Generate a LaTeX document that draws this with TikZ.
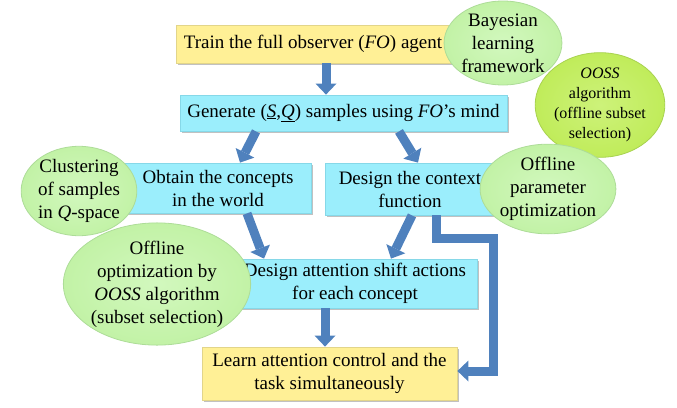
\documentclass[tikz,border=0pt]{standalone}
\usepackage{fontspec}
\setmainfont{Liberation Serif}
\usetikzlibrary{arrows.meta,shadows,shapes.geometric}
\definecolor{ybox}{HTML}{FFF096}
\definecolor{yborder}{HTML}{E2D58A}
\definecolor{cbox}{HTML}{9BEEFC}
\definecolor{cborder}{HTML}{86D8E8}
\definecolor{gell}{HTML}{C2F2A6}
\definecolor{gellin}{HTML}{D2F8BE}
\definecolor{gborder}{HTML}{ADDC98}
\definecolor{oell}{HTML}{C0EC5A}
\definecolor{oellin}{HTML}{CDF27A}
\definecolor{oborder}{HTML}{A8D250}
\definecolor{arr}{HTML}{4F81BD}
\begin{document}
\begin{tikzpicture}[x=1pt,y=-1pt,
  boxbase/.style={rectangle, inner sep=0pt, align=center, line width=0.8pt,
    font=\fontsize{19}{23}\selectfont,
    drop shadow={shadow xshift=1.5pt, shadow yshift=-2pt, opacity=0.35, fill=black!70}},
  ybx/.style={boxbase, draw=yborder, fill=ybox},
  cbx/.style={boxbase, draw=cborder, fill=cbox},
  gell/.style={ellipse, inner sep=0pt, align=center, draw=gborder, line width=0.8pt,
    inner color=gellin, outer color=gell, font=\fontsize{19}{23}\selectfont},
  oellp/.style={ellipse, inner sep=0pt, align=center, draw=oborder, line width=0.8pt,
    inner color=oellin, outer color=oell, font=\fontsize{16}{20}\selectfont},
  blk/.style={draw=arr, line width=9pt, line join=miter,
    -{Triangle[width=21pt,length=11pt,line width=0pt]}}]
\useasboundingbox (0,0) rectangle (677,407);

% boxes
\node[ybx, minimum width=274pt, minimum height=38pt] (b1) at (313,44)
  {Train the full observer (\textit{FO}) agent};
\node[cbx, minimum width=327pt, minimum height=36pt] (b2) at (343.5,113)
  {Generate (\underline{\textit{S}},\underline{\textit{Q}}) samples using \textit{FO}'s mind};
\node[cbx, minimum width=186pt, minimum height=50pt] (b3) at (218,188)
  {Obtain the concepts\\in the world};
\node[cbx, minimum width=170pt, minimum height=52pt] (b4) at (410,189)
  {Design the context\\function};
\node[cbx, minimum width=244pt, minimum height=49pt] (b5) at (355,283.5)
  {Design attention shift actions\\for each concept};
\node[ybx, minimum width=255pt, minimum height=53pt] (b6) at (329.5,373.5)
  {Learn attention control and the\\task simultaneously};

% arrows
\draw[blk] (b1.south -| 326,0) -- (b2.north -| 326,0);
\draw[blk] (b2.south -| 256,0) -- (b3.north -| 240,0);
\draw[blk] (b2.south -| 399,0) -- (b4.north -| 418,0);
\draw[blk] (b3.south -| 247,0) -- (b5.north -| 264,0);
\draw[blk] (b4.south -| 412,0) -- (b5.north -| 391,0);
\draw[blk] (b5.south -| 325,0) -- (b6.north -| 325,0);
\draw[blk] (b4.south -| 436,0) -- (436,238.5) -- (493,238.5) -- (493,371) -- (b6.east |- 0,371);

% ellipses
\node[gell, minimum width=112pt, minimum height=84pt] (e1) at (503,43)
  {Bayesian\\learning\\framework};
\node[oellp, minimum width=114pt, minimum height=86pt] (e2) at (600,105)
  {\textit{OOSS}\\algorithm\\(offline subset\\selection)};
\node[gell, minimum width=110pt, minimum height=76pt] (e3) at (79,191)
  {Clustering\\of samples\\in \textit{Q}-space};
\node[gell, minimum width=124pt, minimum height=78pt] (e4) at (548,189)
  {Offline\\parameter\\optimization};
\node[gell, minimum width=160pt, minimum height=112pt] (e5) at (157,284)
  {Offline\\optimization by\\\textit{OOSS} algorithm\\(subset selection)};
\end{tikzpicture}
\end{document}
